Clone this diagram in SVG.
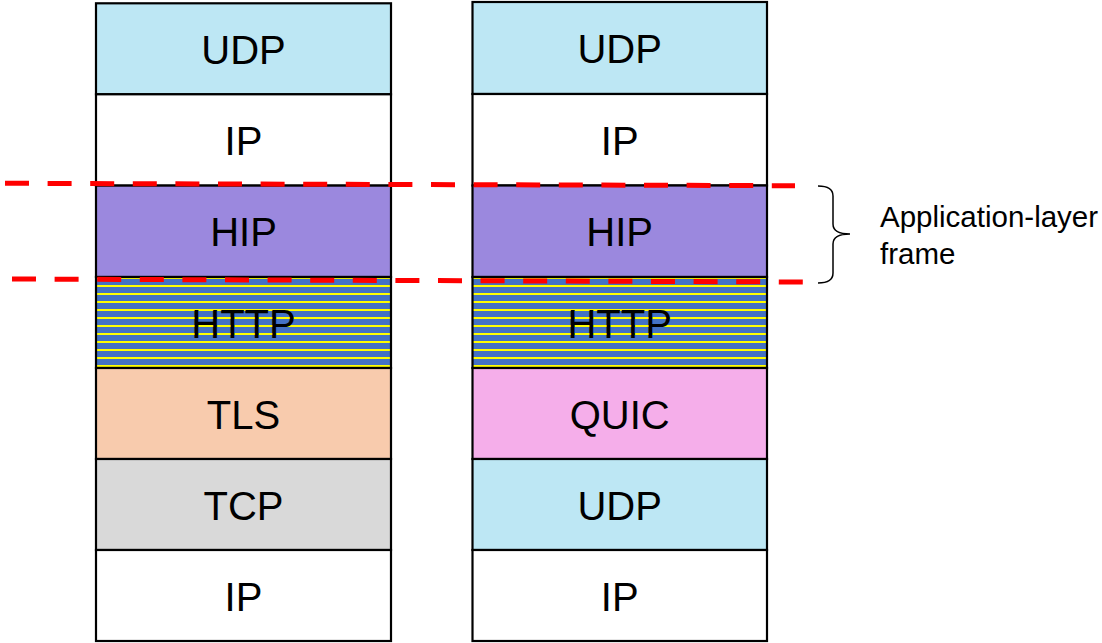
<svg xmlns="http://www.w3.org/2000/svg" width="1102" height="643" viewBox="0 0 1102 643">
  <style>
    .layer { stroke: #000; stroke-width: 2.2; }
    .lbl { font-family: "Liberation Sans", Arial, sans-serif; font-size: 40px; fill: #000; text-anchor: middle; }
    .note { font-family: "Liberation Sans", Arial, sans-serif; font-size: 29.5px; fill: #000; }
    .udp { fill: #BDE7F4; }
    .ip { fill: #FFFFFF; }
    .hip { fill: #9B88DE; }
    .http { fill: url(#stripes); }
    .tls { fill: #F8CBAD; }
    .tcp { fill: #D9D9D9; }
    .quic { fill: #F5AEEA; }
    .frame-line { stroke: #FF0000; stroke-width: 5; stroke-dasharray: 24 18.6; fill: none; }
  </style>
  <defs>
    <!-- blue band with thin yellow rules for the HTTP layer -->
    <pattern id="stripes" patternUnits="userSpaceOnUse" x="0" y="0" width="8" height="8">
      <rect x="0" y="0" width="8" height="8" fill="#4472C4"/>
      <rect x="0" y="5" width="8" height="2" fill="#FFFF00"/>
    </pattern>
  </defs>

  <rect width="1102" height="643" fill="#FFFFFF"/>

  <!-- left stack: HIP over HTTP over TLS/TCP -->
  <g id="left-stack">
    <g id="l-udp"><rect class="layer udp" x="96" y="3.3" width="295" height="91"/><text class="lbl" x="243.5" y="64">UDP</text></g>
    <g id="l-ip1"><rect class="layer ip" x="96" y="94.3" width="295" height="91.3"/><text class="lbl" x="243.5" y="155">IP</text></g>
    <g id="l-hip"><rect class="layer hip" x="96" y="185.6" width="295" height="91.4"/><text class="lbl" x="243.5" y="246">HIP</text></g>
    <g id="l-http"><rect class="layer http" x="96" y="277" width="295" height="91"/><text class="lbl" x="243.5" y="338">HTTP</text></g>
    <g id="l-tls"><rect class="layer tls" x="96" y="368" width="295" height="91"/><text class="lbl" x="243.5" y="429">TLS</text></g>
    <g id="l-tcp"><rect class="layer tcp" x="96" y="459" width="295" height="91"/><text class="lbl" x="243.5" y="520">TCP</text></g>
    <g id="l-ip2"><rect class="layer ip" x="96" y="550" width="295" height="91"/><text class="lbl" x="243.5" y="611">IP</text></g>
  </g>

  <!-- right stack: HIP over HTTP over QUIC/UDP -->
  <g id="right-stack">
    <g id="r-udp1"><rect class="layer udp" x="472.5" y="2" width="294.5" height="92"/><text class="lbl" x="619.7" y="63">UDP</text></g>
    <g id="r-ip1"><rect class="layer ip" x="472.5" y="94" width="294.5" height="91.5"/><text class="lbl" x="619.7" y="155">IP</text></g>
    <g id="r-hip"><rect class="layer hip" x="472.5" y="185.5" width="294.5" height="91.5"/><text class="lbl" x="619.7" y="246">HIP</text></g>
    <g id="r-http"><rect class="layer http" x="472.5" y="277" width="294.5" height="91"/><text class="lbl" x="619.7" y="338">HTTP</text></g>
    <g id="r-quic"><rect class="layer quic" x="472.5" y="368" width="294.5" height="91"/><text class="lbl" x="619.7" y="429">QUIC</text></g>
    <g id="r-udp2"><rect class="layer udp" x="472.5" y="459" width="294.5" height="91"/><text class="lbl" x="619.7" y="520">UDP</text></g>
    <g id="r-ip2"><rect class="layer ip" x="472.5" y="550" width="294.5" height="91"/><text class="lbl" x="619.7" y="611">IP</text></g>
  </g>

  <!-- dashed bounds of the application-layer frame -->
  <g id="connectors">
    <line class="frame-line" x1="5" y1="183.3" x2="795" y2="185.7"/>
    <line class="frame-line" x1="12" y1="279" x2="803" y2="282"/>
    <path d="M818,186 Q833,186 833,196 L833,224 Q833,234 850,234 Q833,234 833,244 L833,273 Q833,283 818,283" fill="none" stroke="#000" stroke-width="1.5"/>
  </g>

  <g id="frame-label">
    <text class="note" x="880" y="227">Application-layer</text>
    <text class="note" x="880" y="264">frame</text>
  </g>
</svg>
